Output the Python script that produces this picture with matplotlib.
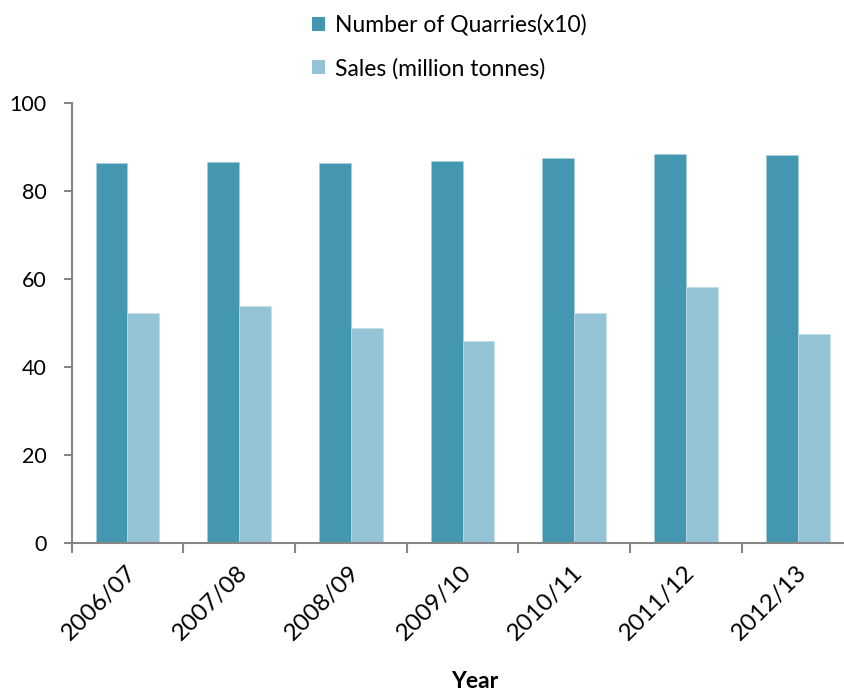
import matplotlib
matplotlib.use("Agg")
import matplotlib.pyplot as plt
from matplotlib.patches import Patch
import numpy as np

years = ["2006/07", "2007/08", "2008/09", "2009/10", "2010/11", "2011/12", "2012/13"]
quarries_x10 = [86.4, 86.7, 86.3, 86.8, 87.6, 88.3, 88.1]
sales_mt = [52.3, 53.8, 48.9, 46.0, 52.2, 58.1, 47.4]
y_ticks = [0, 20, 40, 60, 80, 100]

c_quarries = "#4398b0"
c_sales = "#93c3d4"
axis_grey = "#868686"

plt.rcParams["font.family"] = ["Lato", "DejaVu Sans"]

fig = plt.figure(figsize=(8.44, 6.90), dpi=100)
ax = fig.add_axes([71.6 / 844, (690 - 543) / 690, (853.5 - 71.6) / 844, 440 / 690])

x = np.arange(len(years))
w = 0.286
ax.bar(x - w / 2, quarries_x10, width=w, color=c_quarries, edgecolor="#a9d0dc", linewidth=0.4)
ax.bar(x + w / 2, sales_mt, width=w, color=c_sales, edgecolor="#c4dfe8", linewidth=0.4)

ax.set_xlim(-0.5, len(years) - 0.5)
ax.set_ylim(0, 100)
ax.set_yticks(y_ticks)
ax.tick_params(axis="y", direction="out", length=6, width=1.5, color=axis_grey,
               labelsize=15.5, pad=12)

# category boundaries carry the tick marks, labels sit under the centres
ax.set_xticks(np.arange(-0.5, len(years), 1.0))
ax.set_xticklabels([])
ax.tick_params(axis="x", direction="out", length=7, width=1.5, color=axis_grey)
for xi, lab in zip(x, years):
    ax.text(xi - 0.02, -4.2, lab, rotation=45, ha="right", va="top",
            rotation_mode="anchor", fontsize=17.5, color="black")

for side in ("top", "right"):
    ax.spines[side].set_visible(False)
for side in ("left", "bottom"):
    ax.spines[side].set_color(axis_grey)
    ax.spines[side].set_linewidth(1.5)

fig.text(475 / 844, 1 - 681 / 690, "Year", ha="center", va="center",
         fontsize=16.5, fontweight="bold")

handles = [Patch(facecolor=c_quarries, edgecolor="none"),
           Patch(facecolor=c_sales, edgecolor="none")]
fig.legend(handles, ["Number of Quarries(x10)", "Sales (million tonnes)"],
           loc="upper left", bbox_to_anchor=(303 / 844, 1 - 5 / 690),
           frameon=False, fontsize=16.5, handlelength=0.57, handleheight=0.57,
           handletextpad=0.44, labelspacing=0.96, borderaxespad=0)

fig.savefig("out.png", dpi=100)
